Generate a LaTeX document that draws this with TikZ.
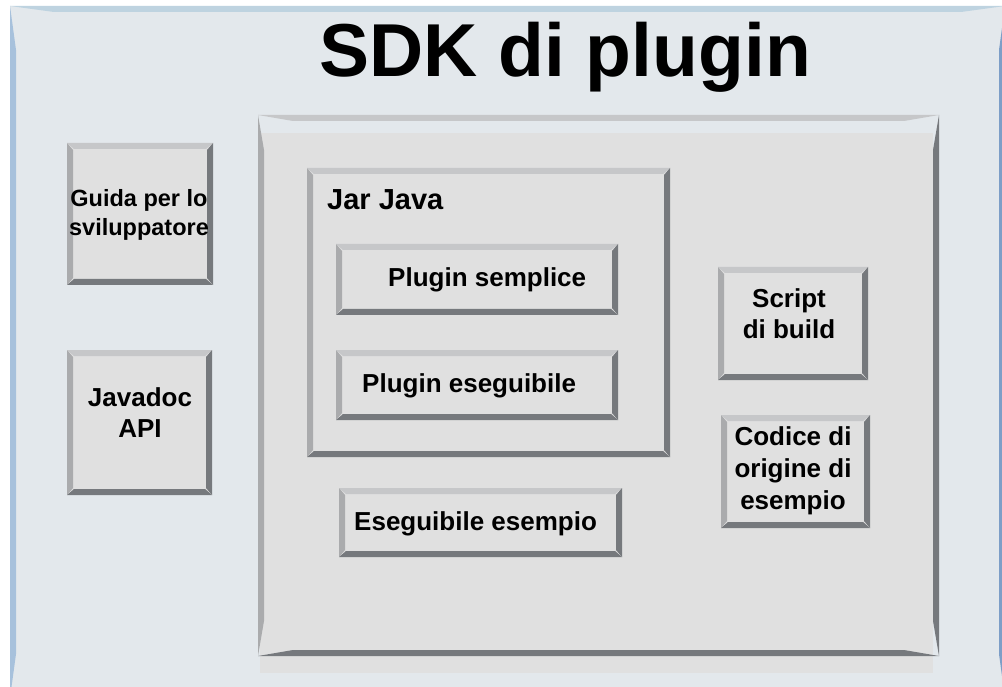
\documentclass[tikz,border=0pt]{standalone}
\usepackage{fontspec}
\setmainfont{Liberation Sans}
\definecolor{bgpage}{HTML}{FFFFFF}
\definecolor{bgfill}{HTML}{E3E8EC}
\definecolor{boxfill}{HTML}{E0E0E0}
\definecolor{gtop}{HTML}{C6C7C9}
\definecolor{gleft}{HTML}{AAABAD}
\definecolor{gdark}{HTML}{76797D}
\definecolor{btop}{HTML}{BED3E0}
\definecolor{bleft}{HTML}{A7C1DC}
\definecolor{bdark}{HTML}{7D9EC7}
\tikzset{
  bvtop/.style={fill=gtop},
  bvleft/.style={fill=gleft},
  bvright/.style={fill=gdark},
  bvbot/.style={fill=gdark},
  lbl/.style={inner sep=0pt, font=\bfseries\fontsize{26}{31}\selectfont, align=center},
}
% #1 x0, #2 y0, #3 x1, #4 y1, #5 thickness, #6 taper
\newcommand\bvframe[6]{%
  \fill[bvtop] (#1,#2) -- (#3,#2) -- ({#3-#6},{#2+#5}) -- ({#1+#6},{#2+#5}) -- cycle;
  \fill[bvleft] (#1,#2) -- ({#1+#5},{#2+#6}) -- ({#1+#5},{#4-#6}) -- (#1,#4) -- cycle;
  \fill[bvright] (#3,#2) -- (#3,#4) -- ({#3-#5},{#4-#6}) -- ({#3-#5},{#2+#6}) -- cycle;
  \fill[bvbot] (#1,#4) -- (#3,#4) -- ({#3-#6},{#4-#5}) -- ({#1+#6},{#4-#5}) -- cycle;}
\newcommand\bvsmall[4]{%
  \fill[boxfill] (#1,#2) rectangle (#3,#4);
  \bvframe{#1}{#2}{#3}{#4}{6}{7}}
\begin{document}
\begin{tikzpicture}[x=1pt,y=-1pt]
\useasboundingbox (0,0) rectangle (1002,687);
\clip (0,0) rectangle (1002,687);
\fill[bgpage] (0,0) rectangle (1002,687);
% outer frame
\fill[bgfill] (10,6) rectangle (1005,698);
\begin{scope}[bvtop/.style={fill=btop}, bvleft/.style={fill=bleft},
  bvright/.style={fill=bdark}, bvbot/.style={fill=bdark}]
  \bvframe{10}{6}{1005}{698}{6}{44}
\end{scope}
\node[inner sep=0pt, anchor=base, font=\bfseries\fontsize{75}{80}\selectfont] (title) at (565,77) {SDK di plugin};
% big container
\fill[boxfill] (260,133) rectangle (933,673);
\bvframe{258}{115}{939}{656}{6}{35}
% Jar Java container
\bvframe{307}{168}{670}{457}{6}{7}
\node[inner sep=0pt, anchor=base west, font=\bfseries\fontsize{29}{34}\selectfont] (jar) at (327,210) {Jar Java};
% boxes
\bvsmall{336}{244}{618}{315}
\node[lbl, anchor=base west] (ps) at (388,287) {Plugin semplice};
\bvsmall{336}{350}{618}{420}
\node[lbl, anchor=base west] (pe) at (362,392) {Plugin eseguibile};
\bvsmall{339}{488}{622}{557}
\node[lbl, anchor=base west] (ee) at (354,530) {Eseguibile esempio};
\bvsmall{67}{143}{213}{285}
\node[lbl, font=\bfseries\fontsize{23.5}{29}\selectfont] (guida) at (139,215) {Guida per lo\\sviluppatore};
\bvsmall{67}{350}{212}{495}
\node[lbl] (api) at (140,413) {Javadoc\\API};
\bvsmall{718}{267}{868}{380}
\node[lbl] (build) at (789,314) {Script\\di build};
\bvsmall{721}{415}{870}{528}
\node[lbl, font=\bfseries\fontsize{26}{32}\selectfont] (src) at (793,471) {Codice di\\origine di\\esempio};
\end{tikzpicture}
\end{document}
